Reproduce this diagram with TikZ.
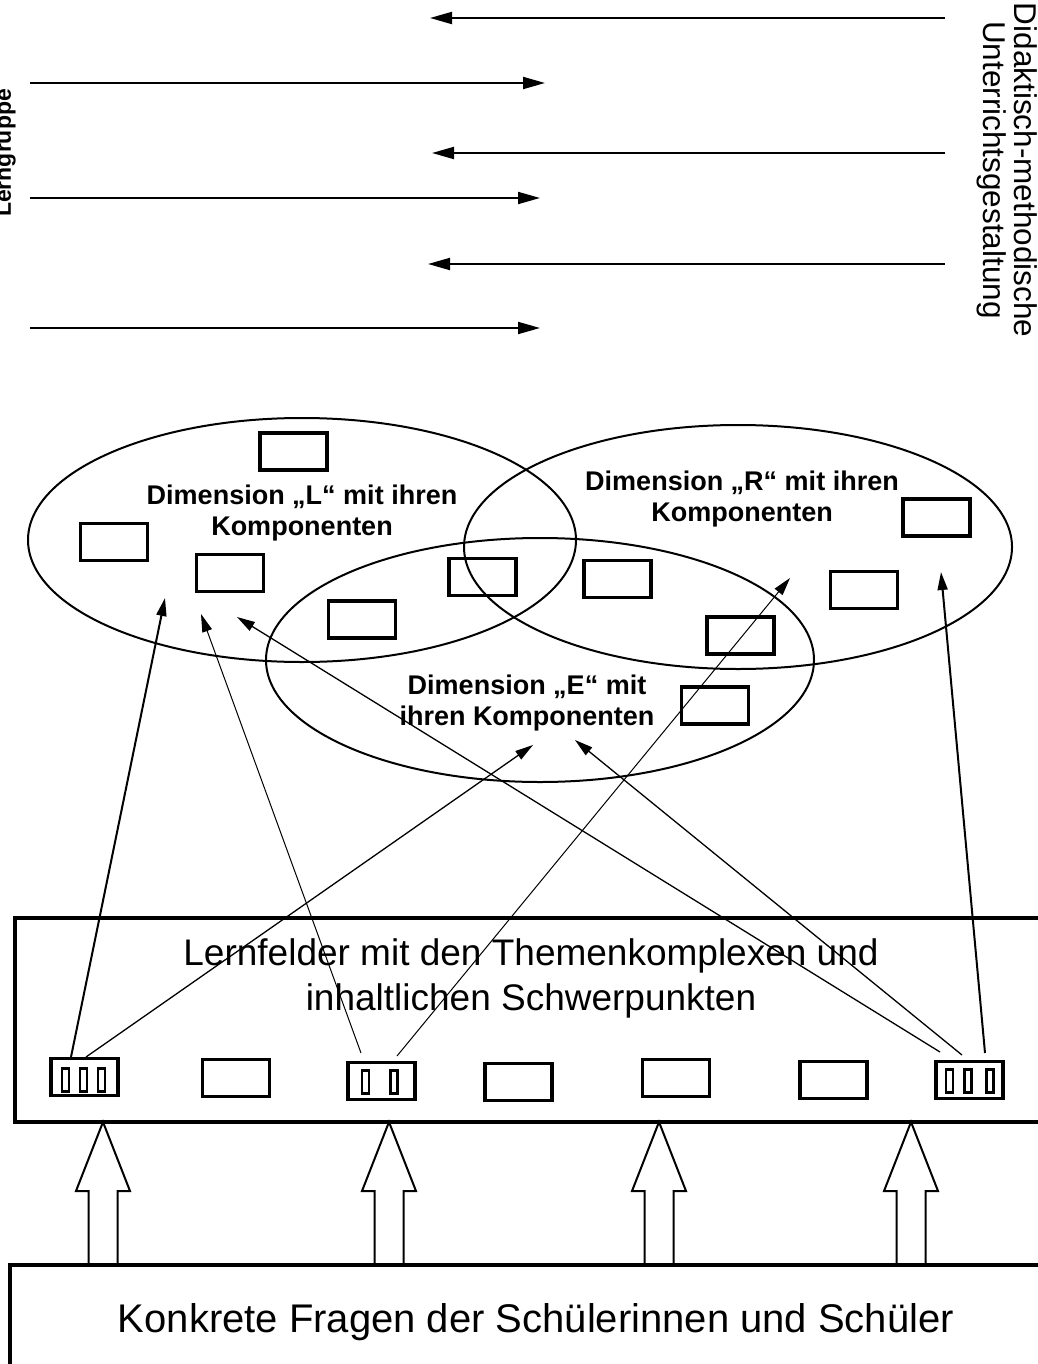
\documentclass[tikz,border=0pt]{standalone}
\usepackage{fontspec}
\setmainfont{Liberation Sans}
\usetikzlibrary{shapes.geometric,arrows.meta}

\begin{document}
\begin{tikzpicture}[x=1pt,y=-1pt]
\useasboundingbox (0,0) rectangle (1037,1364);

\tikzstyle{dimension}=[draw,ellipse,line width=2pt,minimum width=548pt,minimum height=244pt,inner sep=0pt];
\tikzstyle{dimlabel}=[font=\fontsize{27}{31}\selectfont\bfseries,align=center,inner sep=0pt];
\tikzstyle{comp}=[draw,line width=3.2pt,minimum width=67pt,minimum height=37pt,inner sep=0pt];
\tikzstyle{bar}=[draw,line width=2.4pt,minimum width=7pt,minimum height=23pt,inner sep=0pt];
\tikzstyle{bigbox}=[draw,line width=4pt,inner sep=0pt];
\tikzstyle{radial}=[line width=2pt,-{Triangle[length=22pt,width=12pt]}];
\tikzstyle{link}=[line width=1.3pt,-{Triangle[length=18pt,width=10pt]}];

% Seitentexte
\node[rotate=90,anchor=south,inner sep=0pt,font=\fontsize{23}{26}\selectfont\bfseries] (lerngruppe) at (16,153) {Lerngruppe};
\node[rotate=-90,align=center,inner sep=0pt,font=\fontsize{31.5}{31}\selectfont] (didaktik) at (1007,170) {Didaktisch-methodische\\Unterrichtsgestaltung};

% Pfeile oben
\coordinate (r1) at (945,18);  \coordinate (l1) at (430,18);
\coordinate (l2) at (30,83);   \coordinate (r2) at (545,83);
\coordinate (r3) at (945,153); \coordinate (l3) at (432,153);
\coordinate (l4) at (30,198);  \coordinate (r4) at (540,198);
\coordinate (r5) at (945,264); \coordinate (l5) at (428,264);
\coordinate (l6) at (30,328);  \coordinate (r6) at (540,328);
\draw[radial] (r1)--(l1);
\draw[radial] (l2)--(r2);
\draw[radial] (r3)--(l3);
\draw[radial] (l4)--(r4);
\draw[radial] (r5)--(l5);
\draw[radial] (l6)--(r6);

% Dimensionen
\node[dimension] (L) at (302,540) {};
\node[dimension] (R) at (738,547) {};
\node[dimension] (E) at (540,660) {};
\node[dimlabel] (Ltext) at (302,513) {Dimension „L“ mit ihren\\Komponenten};
\node[dimlabel] (Rtext) at (742,499) {Dimension „R“ mit ihren\\Komponenten};
\node[dimlabel] (Etext) at (527,703) {Dimension „E“ mit\\ihren Komponenten};

% Komponenten
\node[comp] (lk1) at (293.5,451.5) {};
\node[comp] (lk2) at (114,542) {};
\node[comp] (lk3) at (230,573) {};
\node[comp] (lek) at (362,619.5) {};
\node[comp] (lrek) at (482.5,577) {};
\node[comp] (rek1) at (617.5,579) {};
\node[comp] (rek2) at (740.5,635.5) {};
\node[comp] (rk1) at (864,590) {};
\node[comp] (rk2) at (936.5,517.5) {};
\node[comp] (ek) at (715,705.5) {};

% Lernfelder
\node[bigbox,minimum width=1032pt,minimum height=204pt] (lernfelder) at (531,1020) {};
\node[font=\fontsize{37}{45}\selectfont,align=center,inner sep=0pt] (lftext) at (531,978) {Lernfelder mit den Themenkomplexen und\\inhaltlichen Schwerpunkten};

\node[comp] (f1) at (84.5,1077) {};
\node[comp] (f2) at (236,1078) {};
\node[comp] (f3) at (381.5,1081) {};
\node[comp] (f4) at (518.5,1082) {};
\node[comp] (f5) at (676,1078) {};
\node[comp] (f6) at (833.5,1080) {};
\node[comp] (f7) at (969.5,1080) {};
\foreach \x in {65.5,83.5,101.5} \node[bar] at (\x,1080) {};
\foreach \x in {365.5,394} \node[bar] at (\x,1082) {};
\foreach \x in {949.5,968,990} \node[bar] at (\x,1081) {};

% Verbindungen zu den Dimensionen
\coordinate (f1a) at (71,1057);  \coordinate (zl1) at (165,598);
\coordinate (f1b) at (86,1057);  \coordinate (ze1) at (533,745);
\coordinate (f3a) at (361,1053); \coordinate (zl2) at (201,614);
\coordinate (f3b) at (397,1056); \coordinate (zr1) at (790,578);
\coordinate (f7a) at (940,1052); \coordinate (zl3) at (237,617);
\coordinate (f7b) at (962,1055); \coordinate (ze2) at (575,740);
\coordinate (f7c) at (985,1053); \coordinate (zr2) at (941,572);
\draw[link,line width=2pt] (f1a)--(zl1);
\draw[link] (f1b)--(ze1);
\draw[link,line width=1pt] (f3a)--(zl2);
\draw[link,line width=1pt] (f3b)--(zr1);
\draw[link] (f7a)--(zl3);
\draw[link] (f7b)--(ze2);
\draw[link,line width=2pt] (f7c)--(zr2);

% Fragen
\node[bigbox,minimum width=1036pt,minimum height=150pt] (fragen) at (528,1340) {};
\node[font=\fontsize{40}{45}\selectfont] (fragentext) at (536,1322) {Konkrete Fragen der Schülerinnen und Schüler};
\foreach \x in {103,389,659,911}
  \draw[line width=2pt,fill=white] (\x,1122) -- (\x+27,1191) -- (\x+14.5,1191) -- (\x+14.5,1264)
    -- (\x-14.5,1264) -- (\x-14.5,1191) -- (\x-27,1191) -- cycle;
\end{tikzpicture}
\end{document}
